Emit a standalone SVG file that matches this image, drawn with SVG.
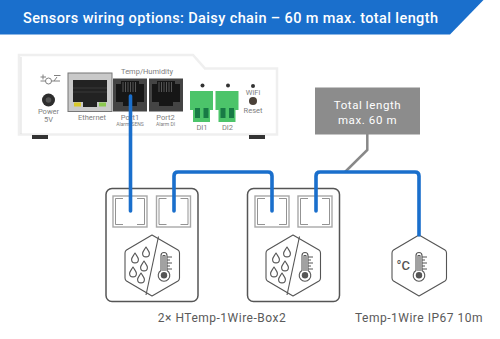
<svg xmlns="http://www.w3.org/2000/svg" width="500" height="339" viewBox="0 0 500 339">
<defs>
<style>
text{font-family:"Roboto","Liberation Sans",sans-serif}
.lab{fill:#808080;font-size:7.5px;text-anchor:middle}
.tiny{fill:#808080;font-size:5px;text-anchor:middle}
.cap{fill:#5a5a5a;font-size:12px;letter-spacing:.5px;text-anchor:middle}
.wire{fill:none;stroke:#1a6fcc;stroke-width:3.6;stroke-linecap:round;stroke-linejoin:round}
.ico{fill:none;stroke:#555;stroke-width:1.1;stroke-linejoin:round}
.box{fill:#fff;stroke:#555;stroke-width:1.5}
.port{fill:#fff;stroke:#a8a8a8;stroke-width:1.4}
.dash{fill:none;stroke:#777;stroke-width:.8}
</style>
<path id="drop" class="ico" d="M0-5C1.800-2 3.400-.5 3.400 1.500A3.400 3.400 0 0 1-3.400 1.500C-3.400-.5-1.800-2 0-5Z"/>
<g id="thermo">
<path class="ico" d="M-3 5.500V-9.500A3 3 0 0 1 3-9.500V5.500A5.800 5.800 0 1 1-3 5.500Z"/>
<path class="ico" d="M-1 6V-9.500H1V6"/>
<circle cx="0" cy="10.200" r="3.200" fill="#555"/>
<path class="ico" d="M3-8H8M3-5H6M3-2H8M3 1H6M3 4H8" stroke-width=".9"/>
</g>
<g id="jack">
<rect x="-17" y="-16.500" width="34" height="33" fill="#444"/>
<path d="M-14-11H-9V-14H9V-11H14V7H7V11H-7V7H-14Z" fill="#161616"/>
<path d="M-7-13V-3M-4.500-13V-3M-2-13V-3M.5-13V-3M3-13V-3M5.500-13V-3" stroke="#666" stroke-width=".8"/>
</g>
<g id="terminal">
<path d="M-11.500-15H11.500V4H8.500V16H-8.500V4H-11.500Z" fill="#4cc46a"/>
<rect x="-6.500" y="2" width="5" height="10" fill="#177a45"/>
<rect x="2" y="2" width="5" height="10" fill="#177a45"/>
</g>
<g id="socket">
<rect class="port" x="0" y="0" width="34" height="31"/>
<path class="dash" d="M10 2.500H2.500V28.500H10M24 2.500H31.500V28.500H24"/>
</g>
<g id="hexmark">
<path class="ico" d="M27 0L53 15Q54.500 16 54.500 18V43Q54.500 45 53 46L27 61L1.500 46Q0 45 0 43V18Q0 16 1.500 15Z"/>
</g>
</defs>

<rect width="500" height="339" fill="#fff"/>

<path id="banner" d="M0 0H483.500L450 34.500H0Z" fill="#1a6fcc"/>
<text x="23" y="23" fill="#fff" font-size="14.500" font-weight="500" textLength="415" lengthAdjust="spacing">Sensors wiring options: Daisy chain – 60 m max. total length</text>

<g id="device">
<path d="M19 55H193L205 68.500H277V134.500H19Z" fill="#fff" stroke="#efefef" stroke-width="2.500"/>
<path d="M21 134V57" stroke="#ddd" fill="none"/>
<rect x="32" y="135" width="16" height="4" fill="#333"/>
<rect x="249" y="135" width="16" height="4" fill="#333"/>
<path d="M40.500 77H46M43 74.500V79.500M54 75.500H60.500M40.500 81H60M54 81L57 77" stroke="#808080" stroke-width="1" fill="none"/>
<circle cx="48.500" cy="81" r="3" fill="#fff" stroke="#808080"/>
<circle cx="48.500" cy="100" r="6.500" fill="#2d2d2d"/>
<circle cx="48.500" cy="100" r="2.800" fill="#555"/>
<text class="lab" x="48.500" y="113.500">Power</text>
<text class="lab" x="48.500" y="121.500">5V</text>
<rect x="68" y="73" width="44" height="38.500" fill="#c9c9c9" stroke="#777"/>
<path d="M73 80H107V102H97V107H83V102H73Z" fill="#222"/>
<path d="M73 88H107M73 92H107" stroke="#444" stroke-width=".7"/>
<rect x="74" y="102.500" width="7" height="4" fill="#d8c82a"/>
<rect x="99" y="102.500" width="7" height="4" fill="#8cc850"/>
<text class="lab" x="92" y="120">Ethernet</text>
<text class="lab" x="147" y="73.500">Temp/Humidity</text>
<use href="#jack" x="130" y="95"/>
<use href="#jack" x="166" y="95"/>
<text class="lab" x="130" y="120">Port1</text>
<text class="tiny" x="130" y="126">Alarm/SENS</text>
<text class="lab" x="165.500" y="120">Port2</text>
<text class="tiny" x="165.500" y="126">Alarm DI</text>
<circle cx="202.500" cy="85.500" r="2" fill="#333"/>
<circle cx="228" cy="85.500" r="2" fill="#333"/>
<use href="#terminal" x="201.500" y="106"/>
<use href="#terminal" x="227" y="106"/>
<text class="lab" x="202" y="130">DI1</text>
<text class="lab" x="227.500" y="130">DI2</text>
<circle cx="253" cy="86" r="2" fill="#333"/>
<circle cx="253" cy="101" r="4" fill="#4a4038"/>
<text class="lab" x="253" y="94.500">WiFi</text>
<text class="lab" x="253" y="113">Reset</text>
</g>

<g id="box1">
<rect class="box" x="106" y="188.500" width="92" height="113" rx="6"/>
<use href="#socket" x="113" y="196"/>
<use href="#socket" x="156.500" y="196"/>
<use href="#hexmark" x="125" y="235"/>
<path class="ico" d="M158.500 236.500L146 295"/>
<use href="#drop" x="135" y="258"/>
<use href="#drop" x="146" y="252" />
<use href="#drop" x="144" y="266"/>
<use href="#drop" x="133" y="272"/>
<use href="#drop" x="141" y="278"/>
<use href="#thermo" x="164" y="265"/>
</g>

<g id="box2">
<rect class="box" x="247.500" y="188.500" width="92" height="113" rx="6"/>
<use href="#socket" x="255" y="196"/>
<use href="#socket" x="298" y="196"/>
<use href="#hexmark" x="266" y="235"/>
<path class="ico" d="M299.500 236.500L287 295"/>
<use href="#drop" x="276" y="258"/>
<use href="#drop" x="287" y="252"/>
<use href="#drop" x="285" y="266"/>
<use href="#drop" x="274" y="272"/>
<use href="#drop" x="282" y="278"/>
<use href="#thermo" x="305" y="265"/>
</g>

<g id="probe">
<use href="#hexmark" x="392" y="235"/>
<text x="396.500" y="270" fill="#555" font-size="13" font-weight="500">°C</text>
<use href="#thermo" x="419" y="265"/>
</g>

<g id="note">
<path d="M367.300 134V150L345 172" fill="none" stroke="#888" stroke-width="2.500"/>
<rect x="315" y="87.500" width="105" height="47" fill="#8c8c8c"/>
<text x="367.500" y="108.500" fill="#fff" font-size="11.500" letter-spacing=".6" text-anchor="middle">Total length</text>
<text x="367.500" y="124" fill="#fff" font-size="11.500" letter-spacing=".6" text-anchor="middle">max. 60 m</text>
</g>

<g id="connectors">
<path class="wire" d="M130.500 96V211"/>
<path class="wire" d="M174 211V176Q174 172 178 172H268Q272 172 272 176V211"/>
<path class="wire" d="M316 211V176Q316 172 320 172H415Q419 172 419 176V235"/>
</g>

<text class="cap" x="222" y="322">2× HTemp-1Wire-Box2</text>
<text class="cap" x="419" y="322">Temp-1Wire IP67 10m</text>
</svg>
